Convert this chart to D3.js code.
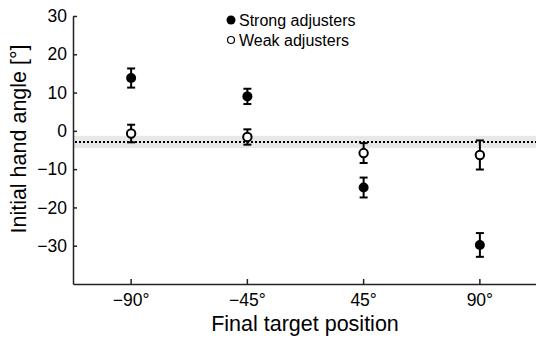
<!DOCTYPE html>
<html>
<head>
<meta charset="utf-8">
<script src="https://cdn.jsdelivr.net/npm/d3@7"></script>
<style>
  body { margin: 0; background: #fff; }
  text { font-family: "Liberation Sans", Arial, sans-serif; fill: #000; }
</style>
</head>
<body>
<script>
const width = 536;
const height = 339;

// data
const positions = ["\u221290\u00b0", "\u221245\u00b0", "45\u00b0", "90\u00b0"];
const strongMean = [13.8, 9.0, -14.8, -29.8];
const strongErr = [2.5, 2.0, 2.6, 3.1];
const weakMean = [-0.7, -1.6, -5.8, -6.3];
const weakErr = [2.3, 2.0, 2.6, 3.8];
const baselineMean = -2.9;
const baselineBand = [-4.5, -1.3];
const yTicks = [-30, -20, -10, 0, 10, 20, 30];

const margin = {top: 16, right: 0, bottom: 55, left: 73};

const svg = d3.select('body').append('svg')
  .attr('width', width)
  .attr('height', height);

const x = d3.scaleBand()
  .domain(positions)
  .range([margin.left, width + 2]);

const y = d3.scaleLinear()
  .domain([-40, 30])
  .range([height - margin.bottom, margin.top]);

const cx = (d) => x(d) + x.bandwidth() / 2;

// baseline band + dotted mean line
svg.append('rect')
  .attr('x', margin.left)
  .attr('y', y(baselineBand[1]))
  .attr('width', width - margin.left)
  .attr('height', y(baselineBand[0]) - y(baselineBand[1]))
  .attr('fill', '#e8e8e8');

svg.append('line')
  .attr('x1', margin.left + 2)
  .attr('x2', width)
  .attr('y1', y(baselineMean))
  .attr('y2', y(baselineMean))
  .attr('stroke', '#000')
  .attr('stroke-width', 2)
  .attr('stroke-dasharray', '2,2');

// axes
const yAxis = svg.append('g')
  .attr('transform', `translate(${margin.left},0)`)
  .call(d3.axisLeft(y).tickValues(yTicks).tickSize(-4).tickPadding(6)
    .tickFormat((d) => d3.format('d')(d).replace('-', '\u2212')).tickSizeOuter(0));

const xAxis = svg.append('g')
  .attr('transform', `translate(0,${y(-40)})`)
  .call(d3.axisBottom(x).tickSize(-5).tickPadding(10).tickSizeOuter(0));

[yAxis, xAxis].forEach((g) => {
  g.select('.domain').attr('stroke', '#222').attr('stroke-width', 1.5);
  g.selectAll('.tick line').attr('stroke', '#222').attr('stroke-width', 1.5);
  g.selectAll('.tick text').style('font-size', '17.5px').attr('fill', '#000');
});

// error bars + markers
function drawSeries(means, errs, filled) {
  const grp = svg.append('g');
  const pts = positions.map((p, i) => ({p, m: means[i], e: errs[i]}));

  grp.selectAll('.stem').data(pts).join('line')
    .attr('x1', (d) => cx(d.p)).attr('x2', (d) => cx(d.p))
    .attr('y1', (d) => y(d.m + d.e)).attr('y2', (d) => y(d.m - d.e))
    .attr('stroke', '#000').attr('stroke-width', 2);

  [1, -1].forEach((s) => {
    grp.selectAll(null).data(pts).join('line')
      .attr('x1', (d) => cx(d.p) - 4).attr('x2', (d) => cx(d.p) + 4)
      .attr('y1', (d) => y(d.m + s * d.e)).attr('y2', (d) => y(d.m + s * d.e))
      .attr('stroke', '#000').attr('stroke-width', 2);
  });

  grp.selectAll('circle').data(pts).join('circle')
    .attr('cx', (d) => cx(d.p))
    .attr('cy', (d) => y(d.m))
    .attr('r', filled ? 5 : 4.2)
    .attr('fill', filled ? '#000' : '#fff')
    .attr('stroke', '#000')
    .attr('stroke-width', filled ? 0 : 2);
}

drawSeries(strongMean, strongErr, true);
drawSeries(weakMean, weakErr, false);

// legend
const legend = svg.append('g').attr('transform', 'translate(231,20)');
legend.append('circle').attr('r', 4.5).attr('fill', '#000');
legend.append('text').attr('x', 8).attr('dy', '0.36em').style('font-size', '16px').text('Strong adjusters');
legend.append('circle').attr('cy', 20).attr('r', 3.5)
  .attr('fill', '#fff').attr('stroke', '#000').attr('stroke-width', 1.2);
legend.append('text').attr('x', 8).attr('y', 20).attr('dy', '0.36em').style('font-size', '16px').text('Weak adjusters');

// axis titles
svg.append('text')
  .attr('x', 305)
  .attr('y', 331)
  .attr('text-anchor', 'middle')
  .style('font-size', '21.5px')
  .text('Final target position');

svg.append('text')
  .attr('transform', 'translate(26,139) rotate(-90)')
  .attr('text-anchor', 'middle')
  .style('font-size', '21.5px')
  .text('Initial hand angle [\u00b0]');
</script>
</body>
</html>
